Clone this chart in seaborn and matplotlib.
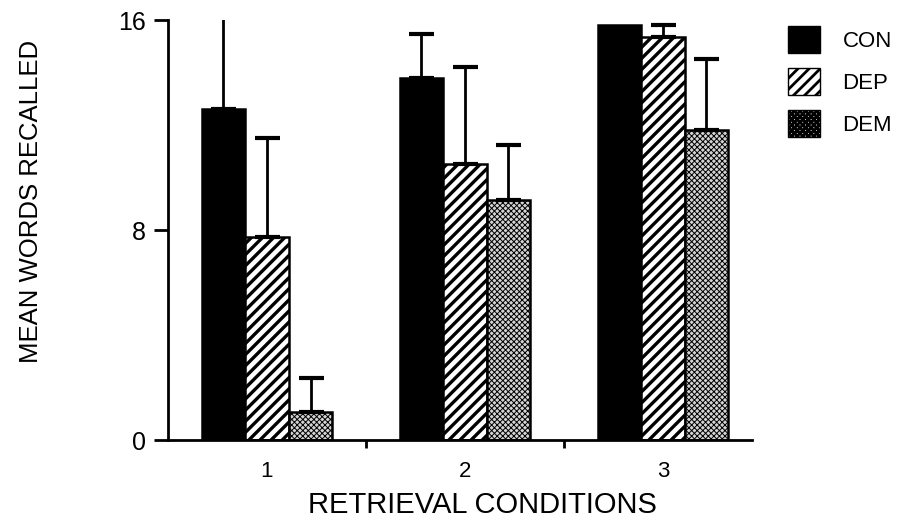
import matplotlib
matplotlib.use("Agg")
import numpy as np
import pandas as pd
import seaborn as sns
import matplotlib.pyplot as plt
from matplotlib.patches import Patch

# ---- data ----
conditions = ["1", "2", "3"]
groups = ["CON", "DEP", "DEM"]
con_means = [12.6, 13.8, 15.8]
dep_means = [7.75, 10.5, 15.35]
dem_means = [1.05, 9.15, 11.8]
# top of each (one-sided) error bar
con_upper = [16.8, 15.45, np.nan]
dep_upper = [11.5, 14.2, 15.8]
dem_upper = [2.35, 11.25, 14.5]

means = {"CON": con_means, "DEP": dep_means, "DEM": dem_means}
uppers = {"CON": con_upper, "DEP": dep_upper, "DEM": dem_upper}

rows = []
for g in groups:
    for c, m in zip(conditions, means[g]):
        rows.append({"condition": c, "group": g, "value": m})
df = pd.DataFrame(rows)

sns.set_style("white")
plt.rcParams["font.family"] = ["Liberation Sans", "DejaVu Sans"]
plt.rcParams["hatch.linewidth"] = 2.0
plt.rcParams["axes.linewidth"] = 2.0
plt.rcParams["text.color"] = "black"
plt.rcParams["axes.labelcolor"] = "black"
plt.rcParams["xtick.color"] = "black"
plt.rcParams["ytick.color"] = "black"
plt.rcParams["axes.edgecolor"] = "black"

fig = plt.figure(figsize=(9.01, 5.25), dpi=100)
ax = fig.add_axes([0.1865, 0.1619, 0.648, 0.8])

palette = {"CON": "black", "DEP": "white", "DEM": "#d4d4d4"}
sns.barplot(data=df, x="condition", y="value", hue="group", order=conditions,
            hue_order=groups, palette=palette, width=0.66, gap=0, errorbar=None,
            edgecolor="black", linewidth=1.8, ax=ax, legend=False, saturation=1)


def style_patch(p, g):
    if g == "DEP":
        p.set_hatch("///")
        if hasattr(p, "set_hatch_linewidth"):
            p.set_hatch_linewidth(2.4)
    elif g == "DEM":
        p.set_hatch("xxxxxx")
        if hasattr(p, "set_hatch_linewidth"):
            p.set_hatch_linewidth(0.7)


for cont, g in zip(ax.containers, groups):
    for p in cont:
        style_patch(p, g)
    xs, hs, errs = [], [], []
    for p, up in zip(cont, uppers[g]):
        if np.isnan(up):
            continue
        xs.append(p.get_x() + p.get_width() / 2)
        hs.append(p.get_height())
        errs.append(up - p.get_height())
    ax.errorbar(xs, hs, yerr=[np.zeros(len(errs)), errs], fmt="none",
                ecolor="black", elinewidth=2, capsize=9, capthick=3, zorder=3)

ax.set_xlim(-0.5, 2.45)
ax.set_ylim(0, 16)
ax.set_yticks([0, 8, 16])
ax.tick_params(axis="y", direction="out", length=10, width=2, labelsize=18, pad=6, left=True)
ax.tick_params(axis="x", which="major", length=0, labelsize=16, pad=15)
ax.set_xticks([0.5, 1.5], minor=True)
ax.tick_params(axis="x", which="minor", length=6, width=2, direction="out", bottom=True)
sns.despine(ax=ax)

ax.set_xlabel("RETRIEVAL CONDITIONS", fontsize=21)
ax.xaxis.set_label_coords(0.538, -0.122)
ax.set_ylabel("MEAN WORDS RECALLED", fontsize=18.5)
ax.yaxis.set_label_coords(-0.214, 0.567)

legend_handles = [Patch(facecolor="black", edgecolor="black"),
                  Patch(facecolor="white", edgecolor="black", hatch="///"),
                  Patch(facecolor="#d4d4d4", edgecolor="black", hatch="xxxxxx")]
for h, g in zip(legend_handles, groups):
    style_patch(h, g)
fig.legend(handles=legend_handles, labels=groups, loc="upper left",
           bbox_to_anchor=(0.8746, 0.950), frameon=False, fontsize=16,
           handlelength=1.45, handleheight=1.45, labelspacing=0.7,
           handletextpad=1.0, borderpad=0, borderaxespad=0)

fig.savefig("out.png", dpi=100)
